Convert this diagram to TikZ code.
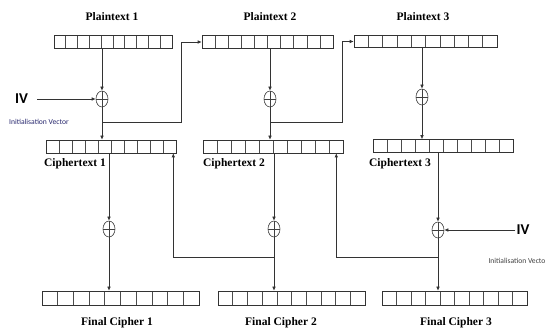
\documentclass[tikz,border=0pt]{standalone}
\usepackage{fontspec}
\setmainfont{Liberation Serif}
\newfontfamily\calib{Carlito}
\usetikzlibrary{shapes.geometric,arrows.meta,positioning,calc}
\definecolor{ivblue}{RGB}{40,40,110}

\begin{document}
\begin{tikzpicture}[
    x=1pt, y=-1pt,
    line width=0.6pt, draw=black!80,
    >={Latex[length=4pt,width=3.5pt]},
    lbl/.style={font=\bfseries\fontsize{11.5}{13}\selectfont, inner sep=0pt},
    row/.style={draw=black!80, rectangle, inner sep=0pt, minimum height=12.5pt,
        path picture={\foreach \k in {1,...,9}
            \draw[black!70] ($(path picture bounding box.south west)!\k/10!(path picture bounding box.south east)$) -- ($(path picture bounding box.north west)!\k/10!(path picture bounding box.north east)$);}},
    xorop/.style={draw=black!75, ellipse, minimum width=12pt, minimum height=16pt, inner sep=0pt,
        path picture={\draw[black!75] (path picture bounding box.west) -- (path picture bounding box.east)
            (path picture bounding box.north) -- (path picture bounding box.south);}},
    ivtxt/.style={font=\calib\bfseries\fontsize{15}{17}\selectfont, inner sep=1pt},
    ivnote/.style={font=\calib\fontsize{7.6}{9}\selectfont, inner sep=0pt}
]
\useasboundingbox (0,0) rectangle (547,331);

% plaintext blocks
\node[row, minimum width=118pt] (p1) at (113,42) {};
\node[row, minimum width=131pt] (p2) at (267.5,42) {};
\node[row, minimum width=143pt] (p3) at (425.5,41.5) {};
\node[lbl] (lp1) at (112,17) {Plaintext 1};
\node[lbl] (lp2) at (270,17) {Plaintext 2};
\node[lbl] (lp3) at (423,17) {Plaintext 3};

% first xor row
\node[xorop] (xor1) at (102,99) {};
\node[xorop] (xor2) at (270,99) {};
\node[xorop] (xor3) at (422,97) {};
\node[ivtxt] (ivl) at (21.5,99) {IV};
\node[ivnote, text=ivblue] (ivln) at (39,122) {Initialisation Vector};

% ciphertext blocks
\node[row, minimum width=130pt, minimum height=13pt] (c1) at (111,146.5) {};
\node[row, minimum width=140pt, minimum height=13pt] (c2) at (273,146.5) {};
\node[row, minimum width=140pt, minimum height=13pt] (c3) at (443,146) {};
\node[lbl] (lc1) at (75,164) {Ciphertext 1};
\node[lbl] (lc2) at (234,164) {Ciphertext 2};
\node[lbl] (lc3) at (400,164) {Ciphertext 3};

% second xor row
\node[xorop] (xor4) at (109,229) {};
\node[xorop] (xor5) at (274,229) {};
\node[xorop] (xor6) at (438,230) {};
\node[ivtxt] (ivr) at (523,230) {IV};
\node[ivnote, text=black!75] (ivrn) at (517,261) {Initialisation Vecto};

% final blocks
\node[row, minimum width=157pt, minimum height=14pt] (f1) at (120.5,298) {};
\node[row, minimum width=147pt, minimum height=14pt] (f2) at (291.5,298) {};
\node[row, minimum width=145pt, minimum height=14pt] (f3) at (454.5,298) {};
\node[lbl] (lf1) at (117,323) {Final Cipher 1};
\node[lbl] (lf2) at (281,323) {Final Cipher 2};
\node[lbl] (lf3) at (456,323) {Final Cipher 3};

\coordinate (j1) at (102,122);
\coordinate (j2) at (270,122);
\coordinate (k1) at (274,257);
\coordinate (k2) at (438,257);

\draw[->] (p1.south -| xor1) -- (xor1);
\draw[->] (p2.south -| xor2) -- (xor2);
\draw[->] (p3.south -| xor3) -- (xor3);
\draw[->, shorten <=8pt] (ivl.east) -- (xor1.west);
\draw[->] (xor1) -- (xor1 |- c1.north);
\draw[->] (xor2) -- (xor2 |- c2.north);
\draw[->] (xor3) -- (xor3 |- c3.north);
\draw[->] (j1) -- ++(79,0) |- (p2.west);
\draw[->] (j2) -- ++(72,0) |- (p3.west);

\draw[->] (c1.south -| xor4) -- (xor4);
\draw[->] (c2.south -| xor5) -- (xor5);
\draw[->] (c3.south -| xor6) -- (xor6);
\draw[->] (ivr.west) -- (xor6.east);
\draw[->] (xor4) -- (xor4 |- f1.north);
\draw[->] (xor5) -- (xor5 |- f2.north);
\draw[->] (xor6) -- (xor6 |- f3.north);
\draw[->] (k1) -| ([xshift=-3pt]c1.south east);
\draw[->] (k2) -| ([xshift=-7pt]c2.south east);

\end{tikzpicture}
\end{document}
